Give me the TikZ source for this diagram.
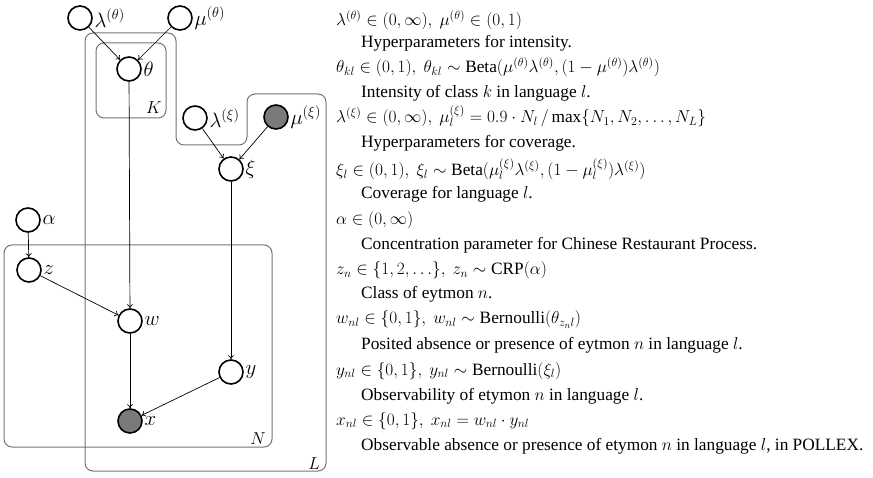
\documentclass[tikz,border=0pt]{standalone}
\usepackage{fontspec}
\setmainfont{Liberation Serif}
\usetikzlibrary{arrows.meta}
\begin{document}
\begin{tikzpicture}[x=1pt,y=-1pt,
  every node/.style={font=\fontsize{17.3}{21}\selectfont},
  var/.style={circle,draw=black,line width=1.6pt,minimum size=24pt,inner sep=0pt,fill=white},
  obs/.style={var,fill=black!52},
  lab/.style={anchor=west,inner sep=0pt,xshift=1.5pt,font=\fontsize{20}{24}\selectfont},
  edge/.style={-{To[length=4pt,width=6pt]},line width=0.7pt},
  plate/.style={draw=black!55,line width=1pt,rounded corners=8pt},
  platelab/.style={anchor=base east,inner sep=0pt,font=\fontsize{19}{23}\selectfont},
  txt/.style={anchor=base west,inner sep=0pt}]
\useasboundingbox (0,0) rectangle (873,478);

% plates
\draw[plate] (85,33) -- (176,33) -- (176,145) -- (247,145) -- (247,94) -- (326,94) -- (326,471) -- (85,471) -- cycle;
\draw[plate] (96,43) rectangle (166,118);
\draw[plate] (4,245) rectangle (272,447);
\node[platelab] (K) at (162,114) {$K$};
\node[platelab] (N) at (266,444) {$N$};
\node[platelab] (L) at (320,469) {$L$};

% variables
\node[var] (lt) at (80,18) {};
\node[var] (mt) at (180,18) {};
\node[var] (th) at (129,69) {};
\node[var] (lx) at (195,118) {};
\node[obs] (mx) at (276,117) {};
\node[var] (xi) at (231,169) {};
\node[var] (al) at (28,220) {};
\node[var] (z)  at (29,270) {};
\node[var] (w)  at (130,321) {};
\node[var] (y)  at (231,372) {};
\node[obs] (x)  at (130,421) {};

\node[lab] (llt) at (lt.east) {$\lambda^{(\theta)}$};
\node[lab] (lmt) at (mt.east) {$\mu^{(\theta)}$};
\node[lab] (lth) at (th.east) {$\theta$};
\node[lab] (llx) at (lx.east) {$\lambda^{(\xi)}$};
\node[lab] (lmx) at (mx.east) {$\mu^{(\xi)}$};
\node[lab] (lxi) at (xi.east) {$\xi$};
\node[lab] (lal) at (al.east) {$\alpha$};
\node[lab] (lz)  at (z.east)  {$z$};
\node[lab] (lw)  at (w.east)  {$w$};
\node[lab] (ly)  at (y.east)  {$y$};
\node[lab] (lx2) at (x.east)  {$x$};

% edges
\draw[edge] (lt) -- (th);
\draw[edge] (mt) -- (th);
\draw[edge] (lx) -- (xi);
\draw[edge] (mx) -- (xi);
\draw[edge] (al) -- (z);
\draw[edge] (z) -- (w);
\draw[edge] (th) -- (w);
\draw[edge] (xi) -- (y);
\draw[edge] (w) -- (x);
\draw[edge] (y) -- (x);

% text
\node[txt] (t1)  at (336,26)  {$\lambda^{(\theta)}\in(0,\infty),\ \mu^{(\theta)}\in(0,1)$};
\node[txt] (t2)  at (361,48)  {Hyperparameters for intensity.};
\node[txt] (t3)  at (336,73)  {$\theta_{kl}\in(0,1),\ \theta_{kl}\sim\mathrm{Beta}(\mu^{(\theta)}\lambda^{(\theta)},(1-\mu^{(\theta)})\lambda^{(\theta)})$};
\node[txt] (t4)  at (361,98)  {Intensity of class $k$ in language $l$.};
\node[txt] (t5)  at (336,123) {$\lambda^{(\xi)}\in(0,\infty),\ \mu_l^{(\xi)}=0.9\cdot N_l\,/\max\{N_1,N_2,\ldots,N_L\}$};
\node[txt] (t6)  at (361,148) {Hyperparameters for coverage.};
\node[txt] (t7)  at (336,176) {$\xi_l\in(0,1),\ \xi_l\sim\mathrm{Beta}(\mu_l^{(\xi)}\lambda^{(\xi)},(1-\mu_l^{(\xi)})\lambda^{(\xi)})$};
\node[txt] (t8)  at (361,199) {Coverage for language $l$.};
\node[txt] (t9)  at (336,225) {$\alpha\in(0,\infty)$};
\node[txt] (t10) at (361,250) {Concentration parameter for Chinese Restaurant Process.};
\node[txt] (t11) at (336,275) {$z_n\in\{1,2,\ldots\},\ z_n\sim\mathrm{CRP}(\alpha)$};
\node[txt] (t12) at (361,299) {Class of eytmon $n$.};
\node[txt] (t13) at (336,324) {$w_{nl}\in\{0,1\},\ w_{nl}\sim\mathrm{Bernoulli}(\theta_{z_nl})$};
\node[txt] (t14) at (361,350) {Posited absence or presence of eytmon $n$ in language $l$.};
\node[txt] (t15) at (336,375) {$y_{nl}\in\{0,1\},\ y_{nl}\sim\mathrm{Bernoulli}(\xi_l)$};
\node[txt] (t16) at (361,400) {Observability of etymon $n$ in language $l$.};
\node[txt] (t17) at (336,425) {$x_{nl}\in\{0,1\},\ x_{nl}=w_{nl}\cdot y_{nl}$};
\node[txt] (t18) at (361,450) {Observable absence or presence of etymon $n$ in language $l$, in POLLEX.};
\end{tikzpicture}
\end{document}
